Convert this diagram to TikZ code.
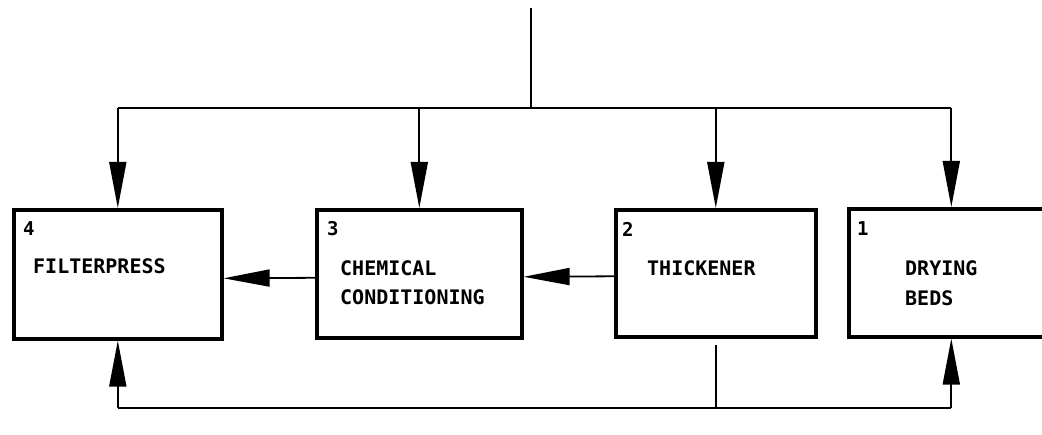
\documentclass[tikz,border=0pt]{standalone}
\usepackage{fontspec}
\newfontfamily\boxfont{DejaVu Sans Mono}
\usetikzlibrary{arrows.meta}
\tikzset{
  blk/.style={draw, line width=3.6pt, inner sep=0pt, anchor=north west},
  lbl/.style={anchor=west, inner sep=0pt, font=\boxfont\bfseries\fontsize{20}{22}\selectfont},
  num/.style={anchor=west, inner sep=0pt, font=\boxfont\bfseries\fontsize{19}{22}\selectfont},
  conn/.style={line width=1.8pt},
  arr/.style={line width=1.8pt, -{Triangle[length=46pt,width=17pt]}},
}
\begin{document}
\begin{tikzpicture}[x=1pt,y=-1pt]
\useasboundingbox[fill=white] (0,0) rectangle (1042,435);
\begin{scope}
\clip (0,0) rectangle (1042,435);
% boxes
\node[blk, minimum width=208pt, minimum height=129pt] (b4) at (12,208) {};
\node[blk, minimum width=205pt, minimum height=128pt] (b3) at (315,208) {};
\node[blk, minimum width=200pt, minimum height=127pt] (b2) at (614,208) {};
\node[blk, minimum width=205pt, minimum height=128pt] (b1) at (847,207) {};
% numbers
\node[num] (n4) at (23,229) {4};
\node[num] (n3) at (327,229) {3};
\node[num] (n2) at (622,229) {2};
\node[num] (n1) at (857,229) {1};
% labels
\node[lbl] (t4) at (33,266) {FILTERPRESS};
\node[lbl] (t3a) at (340,268) {CHEMICAL};
\node[lbl] (t3b) at (340,297) {CONDITIONING};
\node[lbl] (t2) at (647,268) {THICKENER};
\node[lbl] (t1a) at (905,268) {DRYING};
\node[lbl] (t1b) at (905,298) {BEDS};
% top feed
\coordinate (src) at (531,8);
\coordinate (bus) at (531,108);
\draw[conn] (src) -- (bus);
\draw[conn] (b4.north |- bus) -- (b1.north |- bus);
\draw[arr] (b4.north |- bus) -- (b4.north);
\draw[arr] (b3.north |- bus) -- (b3.north);
\draw[arr] (b2.north |- bus) -- (b2.north);
\draw[arr] (b1.north |- bus) -- (b1.north);
% horizontal flow
\draw[arr] ([yshift=-4pt]b3.west) -- ([yshift=-4pt]b4.east);
\draw[arr] ([yshift=-3pt]b2.west) -- ([yshift=-3pt]b3.east);
% bottom loop
\coordinate (bot) at (531,408);
\draw[conn, shorten <=6pt] (b2.south) -- (b2.south |- bot);
\draw[conn] (b4.south |- bot) -- (b1.south |- bot);
\draw[arr] (b4.south |- bot) -- (b4.south);
\draw[arr] (b1.south |- bot) -- (b1.south);
\end{scope}
\end{tikzpicture}
\end{document}
